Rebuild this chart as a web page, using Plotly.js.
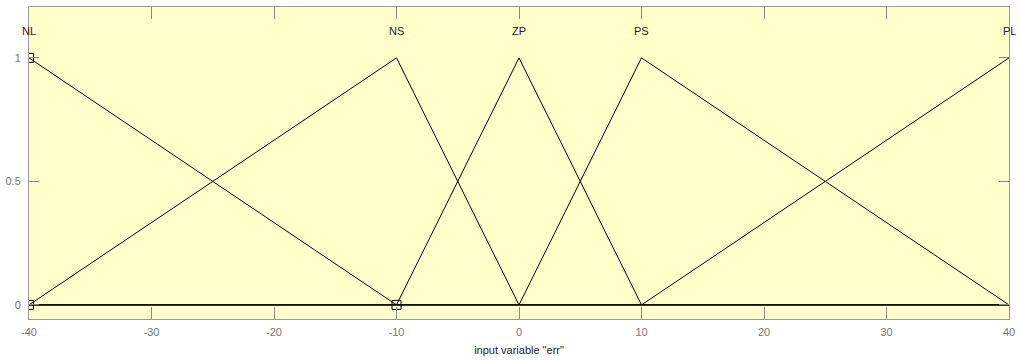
<!DOCTYPE html>
<html>
<head>
<meta charset="utf-8">
<script src="https://cdn.plot.ly/plotly-3.0.1.min.js"></script>
<style>
  body { margin: 0; background: #fff; }
  #chart { width: 1020px; height: 361px; }
</style>
</head>
<body>
<div id="chart"></div>
<script>
// membership functions of input variable "err"
const mfNames = ['NL', 'NS', 'ZP', 'PS', 'PL'];
const mfPeaks = [-40, -10, 0, 10, 40];

const nlX = [-40, -10, 40];
const nlY = [1, 0, 0];
const nsX = [-40, -10, 0, 40];
const nsY = [0, 1, 0, 0];
const zpX = [-40, -10, 0, 10, 40];
const zpY = [0, 0, 1, 0, 0];
const psX = [-40, 0, 10, 40];
const psY = [0, 0, 1, 0];
const plX = [-40, 10, 40];
const plY = [0, 0, 1];

// selected MF (NL) vertex handles
const handleX = [-40, -40, -10];
const handleY = [1, 0, 0];

const xTicks = [-40, -30, -20, -10, 0, 10, 20, 30, 40];
const xTickText = ['-40', '-30', '-20', '-10', '0', '10', '20', '30', '40'];
const yTicks = [0, 0.5, 1];
const yTickText = ['0', '0.5', '1'];

const labelY = 1.11;

const lineStyle = { color: '#000', width: 1 };
const series = [[nlX, nlY], [nsX, nsY], [zpX, zpY], [psX, psY], [plX, plY]];

const traces = series.map(([x, y], i) => ({
  x: x,
  y: y,
  type: 'scatter',
  mode: 'lines',
  name: mfNames[i],
  line: lineStyle,
  hoverinfo: 'skip'
}));

traces.push({
  x: handleX,
  y: handleY,
  type: 'scatter',
  mode: 'markers',
  marker: { symbol: 'square-open', size: 9, color: '#000', line: { width: 1 } },
  hoverinfo: 'skip'
});

const annotations = mfNames.map((name, i) => ({
  x: mfPeaks[i],
  y: labelY,
  text: name,
  showarrow: false,
  xanchor: 'center',
  yanchor: 'middle',
  font: { family: 'Liberation Sans, Arial, sans-serif', size: 11, color: '#222' }
}));

const axisCommon = {
  showgrid: false,
  zeroline: false,
  showline: true,
  linecolor: '#999',
  linewidth: 1,
  mirror: 'ticks',
  ticks: 'inside',
  tickcolor: '#888',
  tickwidth: 1,
  tickfont: { family: 'Liberation Sans, Arial, sans-serif', size: 11, color: '#777' }
};

const layout = {
  width: 1020,
  height: 361,
  margin: { l: 29, r: 11, t: 7, b: 42 },
  paper_bgcolor: '#ffffff',
  plot_bgcolor: '#ffffcc',
  showlegend: false,
  xaxis: Object.assign({}, axisCommon, {
    range: [-40, 40],
    tickvals: xTicks,
    ticktext: xTickText,
    ticklen: 12,
    ticklabelstandoff: 3,
    title: {
      text: 'input variable "err"',
      standoff: 9,
      font: { family: 'Liberation Sans, Arial, sans-serif', size: 11, color: '#222' }
    }
  }),
  yaxis: Object.assign({}, axisCommon, {
    range: [-0.057, 1.206],
    tickvals: yTicks,
    ticktext: yTickText,
    ticklen: 10,
    ticklabelstandoff: 5
  }),
  annotations: annotations
};

Plotly.newPlot('chart', traces, layout, { staticPlot: true });
</script>
</body>
</html>
